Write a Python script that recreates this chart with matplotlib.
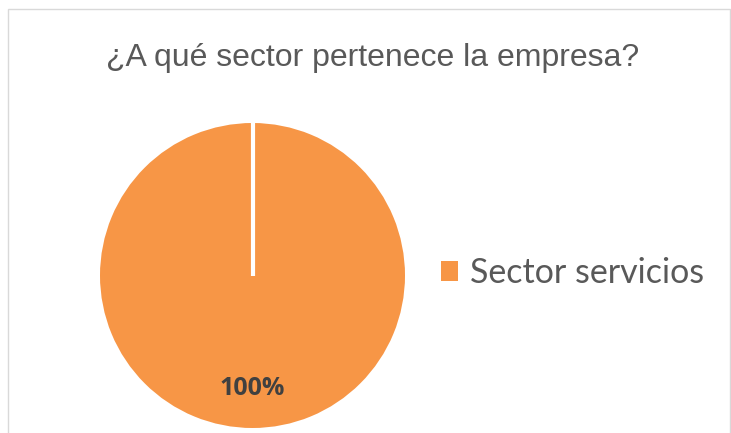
import matplotlib
matplotlib.use("Agg")
import matplotlib.pyplot as plt
import numpy as np
from matplotlib.patches import Rectangle

categories = ["Sector servicios"]
values = [100]
colors = ["#F79646"]
title = "¿A qué sector pertenece la empresa?"

fig = plt.figure(figsize=(7.31, 4.33), dpi=100)
fig.patch.set_facecolor("white")

# chart border (light grey, bottom edge cut off as in the original)
fig.patches.append(Rectangle((7.5 / 731, -0.05), 722.5 / 731, 1.05 - 9.5 / 433,
                             transform=fig.transFigure, fill=False,
                             edgecolor="#d9d9d9", linewidth=1))

fig.text(373 / 731, 1 - 66 / 433, title, ha="center", va="baseline",
         fontsize=23, color="#595959", family="Liberation Sans")

ax = fig.add_axes([100 / 731, 1 - 428 / 433, 305 / 731, 305 / 433])
wedges, texts, autotexts = ax.pie(values, colors=colors, startangle=90, counterclock=False,
                                  autopct="%1.0f%%", pctdistance=0.74,
                                  wedgeprops=dict(edgecolor="white", linewidth=0))
# white separator at the wedge start edge (a full 360 wedge has no radial edge)
for w in wedges:
    a = np.deg2rad(w.theta2)
    ax.plot([w.center[0], w.center[0] + w.r * np.cos(a)],
            [w.center[1], w.center[1] + w.r * np.sin(a)],
            color="white", linewidth=3, solid_capstyle="butt")
for t in autotexts:
    t.set_fontsize(18)
    t.set_fontweight("bold")
    t.set_color("#404040")
    t.set_family("Open Sans")
ax.set_xlim(-1, 1)
ax.set_ylim(-1, 1)
ax.set_aspect("equal")
ax.axis("off")

leg = fig.legend(wedges, categories, loc="center left", bbox_to_anchor=(441 / 731, 1 - 273 / 433),
                 frameon=False, handlelength=0.5, handleheight=0.5, handletextpad=0.35,
                 borderaxespad=0, borderpad=0, prop=dict(family="Lato", size=24.5))
for t in leg.get_texts():
    t.set_color("#595959")
for h in leg.legend_handles:
    h.set_edgecolor("none")

fig.savefig("out.png", dpi=100)
